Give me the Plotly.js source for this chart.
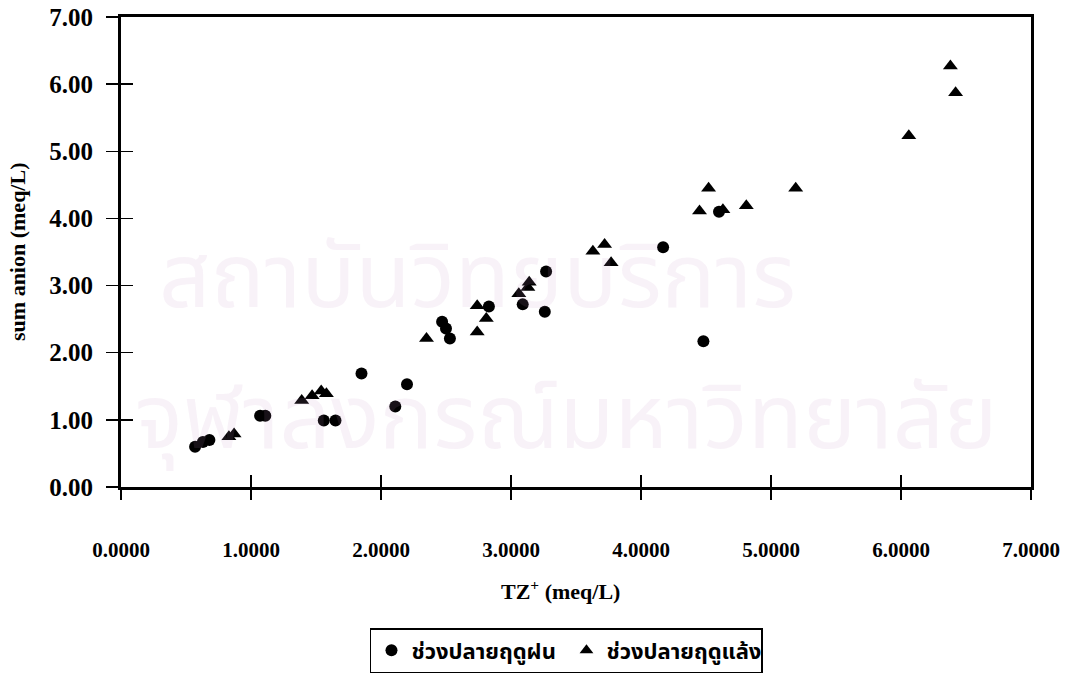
<!DOCTYPE html>
<html>
<head>
<meta charset="utf-8">
<script src="https://cdn.plot.ly/plotly-3.0.1.min.js"></script>
<style>
  html, body { margin: 0; padding: 0; background: #ffffff; }
  #chart { width: 1075px; height: 690px; }
</style>
</head>
<body>
<div id="chart"></div>
<script>
// Series: late rainy season (circles)
const rainyName = "ช่วงปลายฤดูฝน";
const rainyTZ = [0.57, 0.63, 0.68, 1.07, 1.11, 1.56, 1.65, 1.85, 2.11, 2.20, 2.47, 2.50, 2.53, 2.83, 3.09, 3.27, 3.26, 4.17, 4.48, 4.60];
const rainyAnion = [0.60, 0.67, 0.70, 1.06, 1.06, 0.99, 0.99, 1.69, 1.20, 1.53, 2.46, 2.36, 2.21, 2.69, 2.72, 3.21, 2.61, 3.57, 2.17, 4.10];

// Series: late dry season (triangles)
const dryName = "ช่วงปลายฤดูแล้ง";
const dryTZ = [0.83, 0.87, 1.39, 1.47, 1.54, 1.58, 2.35, 2.74, 2.74, 2.81, 3.06, 3.13, 3.14, 3.63, 3.72, 3.77, 4.45, 4.52, 4.63, 4.81, 5.19, 6.06, 6.38, 6.42];
const dryAnion = [0.75, 0.79, 1.29, 1.36, 1.43, 1.39, 2.21, 2.31, 2.70, 2.51, 2.88, 2.97, 3.05, 3.51, 3.61, 3.34, 4.11, 4.45, 4.13, 4.19, 4.45, 5.23, 6.27, 5.87];

const xTitle = "TZ<sup>+</sup> (meq/L)";
const yTitle = "sum anion (meq/L)";
const watermark1 = "สถาบันวิทยบริการ";
const watermark2 = "จุฬาลงกรณ์มหาวิทยาลัย";

const serif = "'Liberation Serif', 'Times New Roman', serif";
const thai = "'Noto Sans Thai', 'Loma', 'Garuda', 'Noto Sans', 'DejaVu Sans', sans-serif";

const traces = [
  {
    type: "scatter", mode: "markers", name: rainyName,
    x: rainyTZ, y: rainyAnion,
    marker: { symbol: "circle", size: 12, color: "#000000" }
  },
  {
    type: "scatter", mode: "markers", name: dryName,
    x: dryTZ, y: dryAnion,
    marker: { symbol: "triangle-up", size: 13, color: "#000000" }
  },
  {
    type: "scatter", mode: "markers", x: [], y: [], xaxis: "x2", yaxis: "y2",
    showlegend: false, hoverinfo: "skip"
  }
];

const layout = {
  width: 1075, height: 690,
  paper_bgcolor: "#ffffff", plot_bgcolor: "rgba(0,0,0,0)",
  margin: { l: 121, r: 44, t: 17, b: 203 },
  showlegend: true,
  legend: {
    orientation: "h",
    x: 0.2736, xanchor: "left",
    y: -0.30, yanchor: "top",
    bordercolor: "#000000", borderwidth: 1.5,
    bgcolor: "#ffffff",
    font: { family: thai, size: 22, color: "#000000", weight: "bold" },
    itemsizing: "constant",
    entrywidth: 150,
    tracegroupgap: 0,
    itemwidth: 30
  },
  xaxis: {
    range: [0, 7], tickmode: "linear", tick0: 0, dtick: 1,
    tickformat: ".4f",
    showgrid: false, zeroline: false,
    showline: true, linecolor: "#000000", linewidth: 3, mirror: true,
    ticks: "outside", ticklen: 10, tickwidth: 1.5, tickcolor: "#000000",
    ticklabelstandoff: 32,
    tickfont: { family: serif, size: 21, color: "#000000", weight: "bold" }
  },
  yaxis: {
    range: [0, 7], tickmode: "linear", tick0: 0, dtick: 1,
    tickformat: ".2f",
    showgrid: false, zeroline: false,
    showline: true, linecolor: "#000000", linewidth: 3, mirror: true,
    ticks: "outside", ticklen: 12, tickwidth: 1.5, tickcolor: "#000000",
    ticklabelstandoff: 8,
    tickfont: { family: serif, size: 25, color: "#000000", weight: "bold" }
  },
  xaxis2: {
    overlaying: "x", matches: "x", range: [0, 7], tickmode: "linear", tick0: 0, dtick: 1,
    showgrid: false, zeroline: false, showline: false, showticklabels: false,
    ticks: "inside", ticklen: 12, tickwidth: 1.5, tickcolor: "#000000", side: "bottom"
  },
  yaxis2: {
    overlaying: "y", matches: "y", range: [0, 7], tickmode: "linear", tick0: 0, dtick: 1,
    showgrid: false, zeroline: false, showline: false, showticklabels: false,
    ticks: "inside", ticklen: 12, tickwidth: 1.5, tickcolor: "#000000", side: "left"
  },
  annotations: [
    { text: watermark1, xref: "paper", yref: "paper", x: 0.392, y: 0.44, yanchor: "middle",
      showarrow: false, font: { family: thai, size: 90, color: "rgba(200,150,200,0.12)" } },
    { text: watermark2, xref: "paper", yref: "paper", x: 0.49, y: 0.14, yanchor: "middle",
      showarrow: false, font: { family: thai, size: 90, color: "rgba(200,150,200,0.12)" } },
    { text: xTitle, xref: "paper", yref: "paper", x: 0.4835, y: -0.219, xanchor: "center", yanchor: "middle",
      showarrow: false, font: { family: serif, size: 22, color: "#000000", weight: "bold" } },
    { text: yTitle, xref: "paper", yref: "paper", x: -0.1143, y: 0.50, xanchor: "center", yanchor: "middle",
      textangle: -90, showarrow: false, font: { family: serif, size: 22, color: "#000000", weight: "bold" } }
  ]
};

Plotly.newPlot("chart", traces, layout, { displayModeBar: false, staticPlot: true });
</script>
</body>
</html>
